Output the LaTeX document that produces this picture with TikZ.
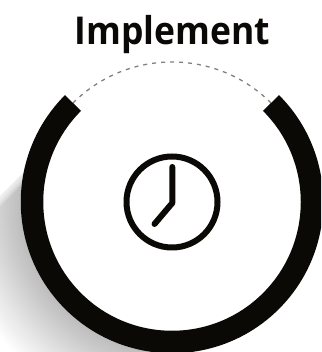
\documentclass[tikz,border=0pt]{standalone}
\usepackage{fontspec}
\usetikzlibrary{calc}
\setmainfont{Open Sans}
\definecolor{ink}{RGB}{10,9,6}
\begin{document}
\begin{tikzpicture}[x=1pt,y=1pt,
  ringline/.style={line width=22.5pt,draw=ink},
  clockline/.style={line width=6pt,draw=ink,line cap=round,line join=round},
  dashline/.style={draw=black!50,line width=1.3pt,dash pattern=on 4pt off 5pt}]
\useasboundingbox (0,0) rectangle (321,352);
\clip (0,0) rectangle (321,352);
\coordinate (c) at (172,150);
\begin{scope}
  \clip (0,155) -- (122,277) -- (277,122) -- (155,0) -- (0,0) -- cycle;
  \foreach \r in {219,218,...,151}{
    \pgfmathsetmacro{\p}{26*(1-(\r-151)/68)}
    \fill[black!\p!white] (c) circle (\r);
  }
\end{scope}
\foreach \k in {0,1,...,10}{
  \fill[white,opacity=0.12] (-60,{95-\k}) -- (122,{277-\k}) -- (-60,277) -- cycle;
}
\fill[white] (c) circle (151);
\draw[dashline] ($(c)+(135:140)$) arc[start angle=135,end angle=45,radius=140];
\draw[ringline] ($(c)+(135:140)$) arc[start angle=135,end angle=405,radius=140];
\node[font=\bfseries\fontsize{35.5}{35.5}\selectfont,inner sep=0pt,text=ink,anchor=base,yscale=1.08] (title) at (172.5,307) {Implement};
\draw[clockline,line cap=butt] (c) circle (45.5);
\draw[clockline] (172.3,185) -- (172.3,149) -- (154.5,128);
\end{tikzpicture}
\end{document}
